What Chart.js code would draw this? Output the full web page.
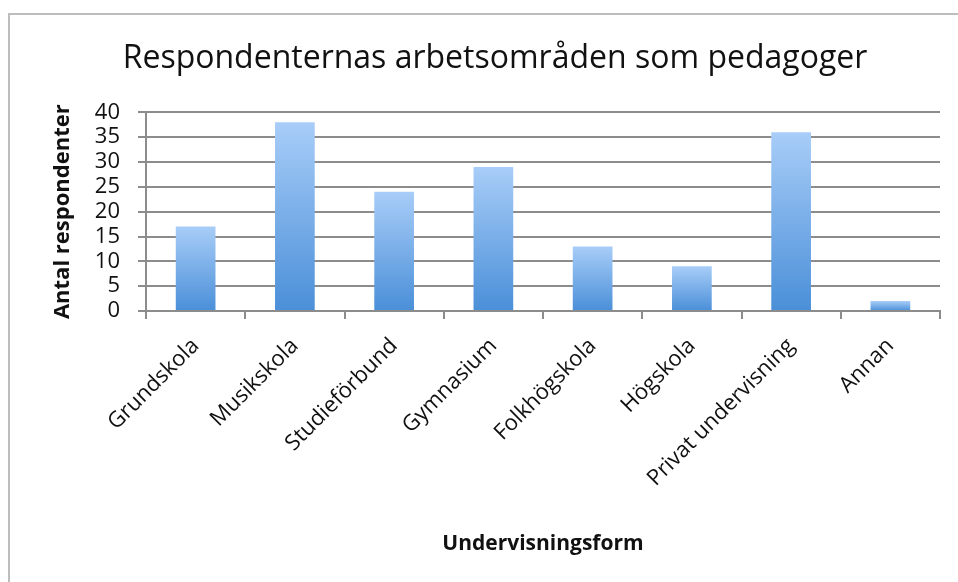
<!DOCTYPE html>
<html>
<head>
<meta charset="utf-8">
<script src="https://cdn.jsdelivr.net/npm/chart.js@4/dist/chart.umd.min.js"></script>
<style>
  html, body { margin: 0; padding: 0; background: #fff; overflow: hidden; }
  #wrap { position: relative; width: 958px; height: 582px; overflow: hidden; }
  #frame { position: absolute; left: 8px; top: 13px; width: 1000px; height: 600px; border: 2px solid #bdbdbd; box-sizing: border-box; pointer-events: none; }
</style>
</head>
<body>
<div id="wrap">
  <canvas id="chart" width="958" height="582"></canvas>
  <div id="frame"></div>
</div>
<script>
const categories = ["Grundskola", "Musikskola", "Studieförbund", "Gymnasium", "Folkhögskola", "Högskola", "Privat undervisning", "Annan"];
const respondents = [17, 38, 24, 29, 13, 9, 36, 2];
const yTicks = [0, 5, 10, 15, 20, 25, 30, 35, 40];

const FONT = "'Open Sans', 'Noto Sans', sans-serif";
const GRID = "#8c8c8c";

function barGradient(ctx) {
  const chart = ctx.chart;
  if (!chart.chartArea || ctx.type !== "data") return "#6fa6e6";
  const y = chart.scales.y;
  const top = y.getPixelForValue(ctx.raw);
  const bottom = y.getPixelForValue(0);
  const g = chart.ctx.createLinearGradient(0, top, 0, bottom);
  g.addColorStop(0, "#a8cdf8");
  g.addColorStop(1, "#4a8fd8");
  return g;
}

new Chart(document.getElementById("chart"), {
  type: "bar",
  data: {
    labels: categories,
    datasets: [{
      label: "Antal respondenter",
      data: respondents,
      backgroundColor: barGradient,
      borderWidth: 0,
      categoryPercentage: 1,
      barPercentage: 0.4,
    }],
  },
  options: {
    responsive: false,
    animation: false,
    layout: { padding: { left: 50, right: 18, top: 40, bottom: 0 } },
    plugins: {
      legend: { display: false },
      tooltip: { enabled: false },
      title: {
        display: true,
        text: "Respondenternas arbetsområden som pedagoger",
        color: "#111",
        font: { family: FONT, size: 32, weight: "normal" },
        padding: { top: 0, bottom: 34 },
      },
    },
    scales: {
      x: {
        afterFit: (scale) => { scale.height = 271; },
        grid: { drawOnChartArea: false, offset: true, color: GRID, lineWidth: 2, tickLength: 8 },
        border: { color: GRID, width: 2 },
        ticks: {
          color: "#111",
          font: { family: FONT, size: 22 },
          maxRotation: 45,
          minRotation: 45,
          autoSkip: false,
          padding: 14,
        },
        title: {
          display: true,
          text: "Undervisningsform",
          color: "#111",
          font: { family: FONT, size: 21, weight: "bold" },
          padding: { top: 0, bottom: 25 },
        },
      },
      y: {
        min: 0,
        max: 40,
        afterBuildTicks: (axis) => { axis.ticks = yTicks.map((v) => ({ value: v })); },
        afterFit: (scale) => { scale.width = 96; },
        grid: { color: GRID, lineWidth: 2, tickLength: 8 },
        border: { color: GRID, width: 2 },
        ticks: {
          color: "#111",
          font: { family: FONT, size: 22 },
          padding: 18,
          autoSkip: false,
        },
        title: {
          display: true,
          text: "Antal respondenter",
          color: "#111",
          font: { family: FONT, size: 22, weight: "bold" },
          padding: { top: 0, bottom: 0 },
        },
      },
    },
  },
});
</script>
</body>
</html>
